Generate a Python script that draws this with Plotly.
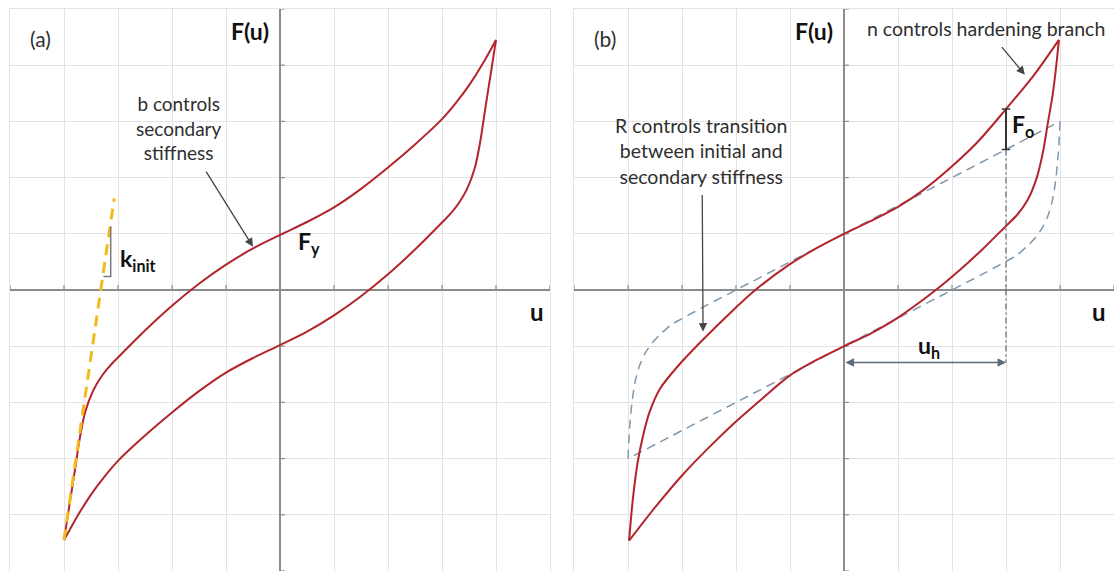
import plotly.graph_objects as go

# ---------------------------------------------------------------- data
GRID_TICKS = [-5, -4, -3, -2, -1, 1, 2, 3, 4, 5]

# (a) hysteresis loop: loading branch (bottom-left -> top-right)
A_LOAD_U = [-4.00, -3.90, -3.80, -3.71, -3.61, -3.46, -3.30, -3.15, -3.00, -2.50,
            -2.00, -1.50, -1.00, -0.50, 0.00, 0.50, 1.00, 1.50, 2.00, 2.50,
            3.00, 3.25, 3.50, 3.75, 4.00]
A_LOAD_F = [-4.45, -3.83, -3.22, -2.65, -2.18, -1.79, -1.53, -1.35, -1.20, -0.72,
            -0.28, 0.11, 0.45, 0.74, 0.98, 1.21, 1.47, 1.80, 2.18, 2.59,
            3.04, 3.32, 3.64, 4.02, 4.45]
# (a) unloading branch (top-right -> bottom-left)
A_UNLOAD_U = [4.00, 3.90, 3.80, 3.71, 3.61, 3.46, 3.30, 3.15, 3.00, 2.50,
              2.00, 1.50, 1.00, 0.50, 0.00, -0.50, -1.00, -1.50, -2.00, -2.50,
              -3.00, -3.25, -3.50, -3.75, -4.00]
A_UNLOAD_F = [4.45, 3.83, 3.22, 2.65, 2.18, 1.79, 1.53, 1.35, 1.20, 0.72,
              0.28, -0.11, -0.45, -0.74, -0.98, -1.21, -1.47, -1.80, -2.18, -2.59,
              -3.04, -3.32, -3.64, -4.02, -4.45]
# (a) initial stiffness line
A_KINIT_U = [-4.00, -3.07]
A_KINIT_F = [-4.45, 1.63]

# (b) hysteresis loop with hardening
B_LOAD_U = [-3.98, -3.91, -3.82, -3.72, -3.60, -3.41, -3.09, -2.66, -2.00, -1.68,
            -1.00, -0.50, 0.00, 0.50, 1.00, 1.50, 2.00, 2.50, 3.00, 3.50, 3.98]
B_LOAD_F = [-4.46, -3.72, -3.06, -2.59, -2.17, -1.76, -1.37, -0.93, -0.31, -0.03,
            0.46, 0.75, 1.00, 1.23, 1.48, 1.80, 2.20, 2.66, 3.22, 3.80, 4.45]
B_UNLOAD_U = [3.98, 3.92, 3.86, 3.78, 3.69, 3.57, 3.40, 3.20, 3.00, 2.58, 2.15,
              1.70, 1.00, 0.50, 0.00, -0.50, -1.00, -1.50, -2.00, -2.50, -3.00,
              -3.50, -3.98]
B_UNLOAD_F = [4.45, 3.90, 3.45, 3.00, 2.48, 2.00, 1.60, 1.33, 1.14, 0.74, 0.36,
              0.00, -0.49, -0.77, -1.00, -1.24, -1.52, -1.92, -2.34, -2.80, -3.30,
              -3.87, -4.46]
# (b) reference loop without hardening (dashed)
B_REF_LOAD_U = [-4.00, -3.97, -3.92, -3.86, -3.78, -3.68, -3.55, -3.38, -3.20,
                -3.00, -2.60, -2.00, -1.00, 0.00, 1.00, 2.00, 3.00, 4.00]
B_REF_LOAD_F = [-3.00, -2.45, -1.95, -1.60, -1.33, -1.12, -0.94, -0.77, -0.62,
                -0.51, -0.30, 0.00, 0.50, 1.00, 1.50, 2.00, 2.50, 3.00]
B_REF_UNLOAD_U = [4.00, 3.97, 3.92, 3.86, 3.78, 3.68, 3.55, 3.38, 3.20,
                  3.00, 2.60, 2.00, 1.00, 0.00, -1.00, -2.00, -3.00, -4.00]
B_REF_UNLOAD_F = [3.00, 2.45, 1.95, 1.60, 1.33, 1.12, 0.94, 0.77, 0.62,
                  0.51, 0.30, 0.00, -0.50, -1.00, -1.50, -2.00, -2.50, -3.00]

# (b) hardening offset markers
U_H = 3.0
F_O_TOP = 3.22
F_O_BOTTOM = 2.50
U_H_ARROW_F = -1.29

# ---------------------------------------------------------------- style
RED = "#b3242c"
GOLD = "#f2bb1d"
STEEL = "#7f98ad"
AXIS_GREY = "#8c8c8c"
GRID_GREY = "#e3e3e3"
TEXT_DARK = "#2f2f2f"
LABEL_DARK = "#111111"
FONT = "Lato"
TICK_LEN = 0.09

W, H = 1114, 571
DOM_A = [10 / W, 550 / W]
DOM_B = [574 / W, 1.0]
DOM_Y = [0.0, 1 - 9 / H]

fig = go.Figure()


def add_axis_ticks(xa, ya):
    """Short tick marks on the two zero axes of a panel."""
    tx, ty = [], []
    for t in GRID_TICKS:
        tx += [t, t, None]
        ty += [0, TICK_LEN, None]
    for t in GRID_TICKS:
        tx += [0, TICK_LEN, None]
        ty += [t, t, None]
    fig.add_trace(go.Scatter(x=tx, y=ty, mode="lines", xaxis=xa, yaxis=ya,
                             line=dict(color=AXIS_GREY, width=1.2),
                             hoverinfo="skip", showlegend=False))


def add_curve(u, f, xa, ya, color, width, dash="solid", shape="spline"):
    fig.add_trace(go.Scatter(x=u, y=f, mode="lines", xaxis=xa, yaxis=ya,
                             line=dict(color=color, width=width, dash=dash,
                                       shape=shape, smoothing=0.8),
                             hoverinfo="skip", showlegend=False))


# ---- panel (a)
add_axis_ticks("x", "y")
add_curve(A_LOAD_U, A_LOAD_F, "x", "y", RED, 2)
add_curve(A_UNLOAD_U, A_UNLOAD_F, "x", "y", RED, 2)
add_curve(A_KINIT_U, A_KINIT_F, "x", "y", GOLD, 3, dash="11px,7px", shape="linear")
# slope triangle beside the initial stiffness line
fig.add_trace(go.Scatter(x=[-3.27, -3.135, -3.135], y=[0.24, 0.24, 1.13],
                         mode="lines", xaxis="x", yaxis="y",
                         line=dict(color="#7a7a7a", width=1.5),
                         hoverinfo="skip", showlegend=False))

# ---- panel (b)
add_axis_ticks("x2", "y2")
add_curve(B_REF_LOAD_U, B_REF_LOAD_F, "x2", "y2", STEEL, 1.5, dash="9px,6px")
add_curve(B_REF_UNLOAD_U, B_REF_UNLOAD_F, "x2", "y2", STEEL, 1.5, dash="9px,6px")
add_curve(B_LOAD_U, B_LOAD_F, "x2", "y2", RED, 2)
add_curve(B_UNLOAD_U, B_UNLOAD_F, "x2", "y2", RED, 2)
# dash-dot guide at u_h
fig.add_trace(go.Scatter(x=[U_H, U_H], y=[F_O_BOTTOM, U_H_ARROW_F], mode="lines",
                         xaxis="x2", yaxis="y2",
                         line=dict(color="#666666", width=1.2, dash="6px,3px,2px,3px"),
                         hoverinfo="skip", showlegend=False))
# F_o bracket
fig.add_trace(go.Scatter(x=[U_H, U_H], y=[F_O_TOP, F_O_BOTTOM], mode="lines+markers",
                         xaxis="x2", yaxis="y2",
                         line=dict(color="#333333", width=2),
                         marker=dict(symbol="line-ew", size=6,
                                     line=dict(color="#333333", width=1.5)),
                         hoverinfo="skip", showlegend=False))

# ---------------------------------------------------------------- axes
def axis_style(domain, anchor):
    return dict(domain=domain, anchor=anchor, range=[-5, 5], tick0=0, dtick=1,
                showgrid=True, gridcolor=GRID_GREY, gridwidth=1,
                zeroline=True, zerolinecolor=AXIS_GREY, zerolinewidth=1.5,
                showline=True, mirror=True, linecolor=GRID_GREY, linewidth=1,
                showticklabels=False, ticks="", fixedrange=True)


fig.update_layout(
    width=W, height=H,
    margin=dict(l=0, r=0, t=0, b=0),
    paper_bgcolor="white", plot_bgcolor="white",
    showlegend=False,
    xaxis=axis_style(DOM_A, "y"), yaxis=axis_style(DOM_Y, "x"),
    xaxis2=axis_style(DOM_B, "y2"), yaxis2=axis_style(DOM_Y, "x2"),
)


def label(text, x, y, xref, yref, size=19.5, color=TEXT_DARK, xanchor="center",
          yanchor="middle", bold=False, arrow_to=None):
    kw = dict(showarrow=False)
    if arrow_to is not None:
        # arrow leaves the (padded) text box and ends at arrow_to
        kw = dict(showarrow=True, ax=x, ay=y, axref=xref, ayref=yref,
                  arrowhead=2, arrowsize=1.3, arrowwidth=1.3, arrowcolor="#454545",
                  standoff=0, borderpad=7)
        x, y = arrow_to
    fig.add_annotation(text=text, x=x, y=y, xref=xref, yref=yref,
                       xanchor=xanchor, yanchor=yanchor, align="center",
                       font=dict(family=FONT, size=size, color=color,
                                 weight="bold" if bold else "normal"), **kw)


# panel (a) text
label("(a)", -4.43, 4.48, "x", "y", size=21)
label("F(u)", -0.17, 4.6, "x", "y", size=23, color=LABEL_DARK, xanchor="right", bold=True)
label("u", 4.76, -0.39, "x", "y", size=24, color=LABEL_DARK, bold=True)
label("F<sub>y</sub>", 0.3, 0.85, "x", "y", size=23, color=LABEL_DARK, xanchor="left", bold=True)
label("k<sub>init</sub>", -3.0, 0.55, "x", "y", size=23, color=LABEL_DARK, xanchor="left", bold=True)
label("b controls<br>secondary<br>stiffness", -1.87, 2.88, "x", "y", size=19,
      arrow_to=(-0.5, 0.77))

# panel (b) text
label("(b)", -4.43, 4.48, "x2", "y2", size=21)
label("F(u)", -0.17, 4.6, "x2", "y2", size=23, color=LABEL_DARK, xanchor="right", bold=True)
label("u", 4.72, -0.39, "x2", "y2", size=24, color=LABEL_DARK, bold=True)
label("n controls hardening branch", 2.63, 4.66, "x2", "y2", arrow_to=(3.35, 3.83))
label("R controls transition<br>between initial and<br>secondary stiffness",
      -2.63, 2.48, "x2", "y2", arrow_to=(-2.61, -0.74))
label("F<sub>o</sub>", 3.08, 2.92, "x2", "y2", size=23, color=LABEL_DARK, xanchor="left", bold=True)
label("u<sub>h</sub>", 1.57, -1.0, "x2", "y2", size=23, color=LABEL_DARK, bold=True)
# double-headed u_h dimension arrow
fig.add_annotation(text="", x=U_H, y=U_H_ARROW_F, ax=0.0, ay=U_H_ARROW_F,
                   xref="x2", yref="y2", axref="x2", ayref="y2", showarrow=True,
                   arrowhead=2, startarrowhead=2, arrowsize=1.3, startarrowsize=1.3,
                   arrowwidth=1.3, arrowcolor="#5b6a78", arrowside="end+start",
                   standoff=0, startstandoff=0)

fig.write_html("out.html")
